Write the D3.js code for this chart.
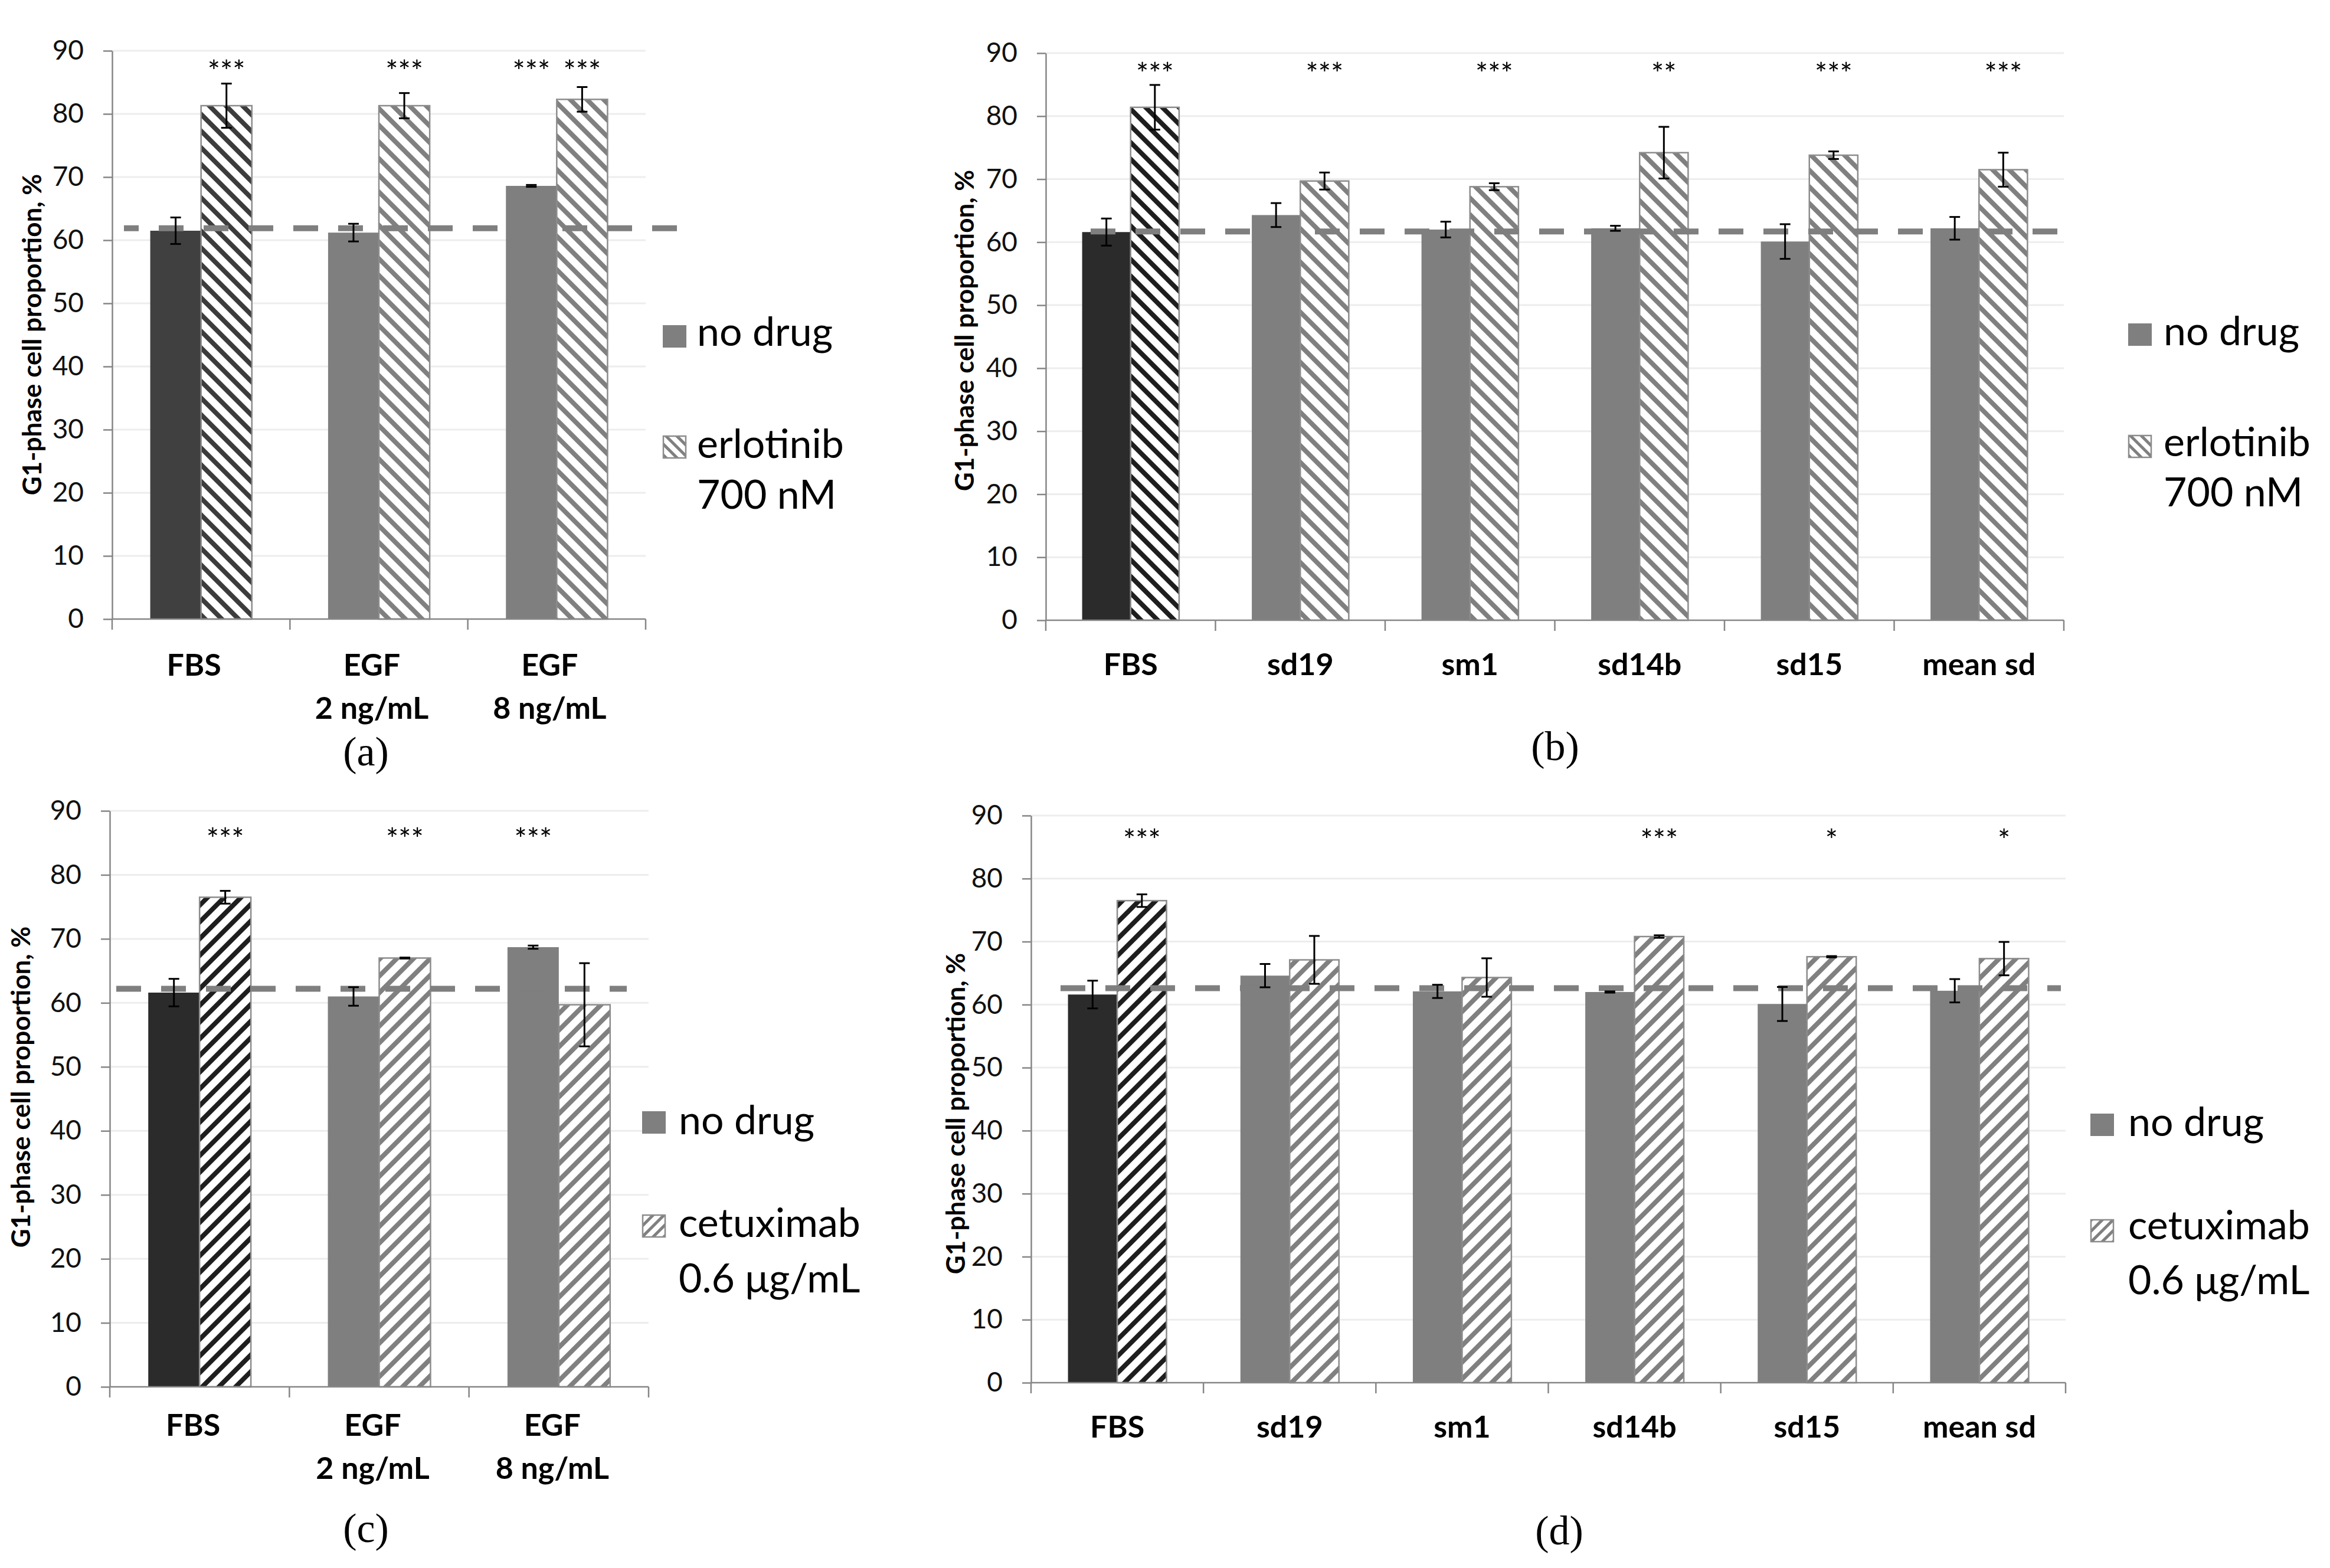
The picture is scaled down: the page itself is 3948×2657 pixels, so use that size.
<!DOCTYPE html>
<html><head><meta charset="utf-8">
<script src="https://cdn.jsdelivr.net/npm/d3@7/dist/d3.min.js"></script>
<style>body{margin:0;background:#fff} svg{display:block}</style>
</head><body>
<svg id="chart" width="3948" height="2657"></svg>
<script>
// ---------- DATA ----------
const catsEGF = [["FBS"], ["EGF", "2 ng/mL"], ["EGF", "8 ng/mL"]];
const catsSD = [["FBS"], ["sd19"], ["sm1"], ["sd14b"], ["sd15"], ["mean sd"]];
const yTicks = [0, 10, 20, 30, 40, 50, 60, 70, 80, 90];
const yTitle = "G1-phase cell proportion, %";
const seriesNoDrug = "no drug";
const drugErlotinib = ["erlotinib", "700 nM"];
const drugCetuximab = ["cetuximab", "0.6 \u03bcg/mL"];
const panelLabels = ["(a)", "(b)", "(c)", "(d)"];

// panel (a): EGF, erlotinib
const aNoDrug = [61.5, 61.2, 68.6];
const aNoDrugErr = [2.1, 1.4, 0.15];
const aDrug = [81.3, 81.3, 82.3];
const aDrugErr = [3.5, 2.0, 1.95];
const aStarsNoDrug = ["", "", "***"];
const aStarsDrug = ["***", "***", "***"];
const aRef = 61.9;

// panel (b): sera, erlotinib
const bNoDrug = [61.6, 64.3, 62.0, 62.2, 60.1, 62.2];
const bNoDrugErr = [2.15, 1.9, 1.25, 0.4, 2.75, 1.8];
const bDrug = [81.4, 69.7, 68.8, 74.2, 73.8, 71.5];
const bDrugErr = [3.55, 1.35, 0.55, 4.1, 0.6, 2.7];
const bStarsNoDrug = ["", "", "", "", "", ""];
const bStarsDrug = ["***", "***", "***", "**", "***", "***"];
const bRef = 61.7;

// panel (c): EGF, cetuximab
const cNoDrug = [61.6, 61.0, 68.7];
const cNoDrugErr = [2.15, 1.45, 0.25];
const cDrug = [76.5, 67.0, 59.7];
const cDrugErr = [1.0, 0.08, 6.5];
const cStarsNoDrug = ["", "", "***"];
const cStarsDrug = ["***", "***", ""];
const cRef = 62.2;

// panel (d): sera, cetuximab
const dNoDrug = [61.6, 64.6, 62.1, 62.0, 60.1, 62.2];
const dNoDrugErr = [2.2, 1.85, 1.05, 0.1, 2.7, 1.85];
const dDrug = [76.5, 67.1, 64.3, 70.8, 67.6, 67.3];
const dDrugErr = [1.0, 3.8, 3.05, 0.2, 0.1, 2.65];
const dStarsNoDrug = ["", "", "", "", "", ""];
const dStarsDrug = ["***", "", "", "***", "*", "*"];
const dRef = 62.6;

// ---------- STYLE / LAYOUT ----------
const FONT = "Lato, 'Open Sans', sans-serif";
const GRAY = "#7f7f7f";
const svg = d3.select("#chart");
const defs = svg.append("defs");

function makePattern(id, color, angle, size, stripe) {
  const p = defs.append("pattern").attr("id", id)
    .attr("patternUnits", "userSpaceOnUse")
    .attr("width", size).attr("height", size)
    .attr("patternTransform", `rotate(${angle})`);
  p.append("rect").attr("width", size).attr("height", size).attr("fill", "#fff");
  p.append("rect").attr("width", stripe).attr("height", size).attr("fill", color);
}
makePattern("hbDarkA", "#3c3c3c", -45, 20, 8);
makePattern("hbDark", "#1e1e1e", -45, 20, 8);
makePattern("hbGray", "#808080", -45, 20, 8);
makePattern("hfDark", "#1e1e1e", 45, 20, 8);
makePattern("hfGray", "#808080", 45, 20, 8);
makePattern("lgB", "#808080", -45, 13, 5);
makePattern("lgF", "#808080", 45, 13, 5);

const panels = [
  {cats: catsEGF, nd: aNoDrug, ndE: aNoDrugErr, dr: aDrug, drE: aDrugErr, sN: aStarsNoDrug, sD: aStarsDrug, ref: aRef,
   drugName: drugErlotinib, label: panelLabels[0],
   x0: 190, x1: 1094, yTop: 86, y0: 1049, dark: "#404040", darkPat: "hbDarkA", grayPat: "hbGray", lgPat: "lgB",
   dash: [210, 1152], dashOff: 17, catY: 1145, catDx: -12, title: [53, 567], starLevel: 87.6,
   lg: {sqX: 1123, sq1Y: 551, t1Y: 586, sq2Y: 738, t2Y: 776, t3Y: 862, tx: 1181}, lab: [620, 1297]},
  {cats: catsSD, nd: bNoDrug, ndE: bNoDrugErr, dr: bDrug, drE: bDrugErr, sN: bStarsNoDrug, sD: bStarsDrug, ref: bRef,
   drugName: drugErlotinib, label: panelLabels[1],
   x0: 1772, x1: 3497, yTop: 90, y0: 1051, dark: "#2b2b2b", darkPat: "hbDark", grayPat: "hbGray", lgPat: "lgB",
   dash: [1848, 3497], dashOff: 0, catY: 1144, catDx: 0, title: [1633, 560], starLevel: 87.6,
   lg: {sqX: 3606, sq1Y: 548, t1Y: 585, sq2Y: 737, t2Y: 773, t3Y: 858, tx: 3666}, lab: [2635, 1288]},
  {cats: catsEGF, nd: cNoDrug, ndE: cNoDrugErr, dr: cDrug, drE: cDrugErr, sN: cStarsNoDrug, sD: cStarsDrug, ref: cRef,
   drugName: drugCetuximab, label: panelLabels[2],
   x0: 186, x1: 1099, yTop: 1374, y0: 2350, dark: "#2b2b2b", darkPat: "hfDark", grayPat: "hfGray", lgPat: "lgF",
   dash: [197, 1062], dashOff: 0, catY: 2433, catDx: -11, title: [34, 1842], starLevel: 86.4,
   lg: {sqX: 1088, sq1Y: 1883, t1Y: 1922, sq2Y: 2058, t2Y: 2096, t3Y: 2190, tx: 1150}, lab: [620, 2613]},
  {cats: catsSD, nd: dNoDrug, ndE: dNoDrugErr, dr: dDrug, drE: dDrugErr, sN: dStarsNoDrug, sD: dStarsDrug, ref: dRef,
   drugName: drugCetuximab, label: panelLabels[3],
   x0: 1747, x1: 3500, yTop: 1382, y0: 2343, dark: "#2b2b2b", darkPat: "hfDark", grayPat: "hfGray", lgPat: "lgF",
   dash: [1797, 3492], dashOff: 0, catY: 2436, catDx: 0, title: [1618, 1887], starLevel: 86.9,
   lg: {sqX: 3542, sq1Y: 1887, t1Y: 1925, sq2Y: 2066, t2Y: 2100, t3Y: 2193, tx: 3606}, lab: [2642, 2617]}
];

function drawPanel(p) {
  const g = svg.append("g");
  const n = p.cats.length;
  const x = d3.scaleBand().domain(d3.range(n)).range([p.x0, p.x1])
    .paddingInner(3 / 7).paddingOuter(1.5 / 7);
  const xs = d3.scaleBand().domain(["nd", "dr"]).range([0, x.bandwidth()]);
  const y = d3.scaleLinear().domain([0, 90]).range([p.y0, p.yTop]);

  // gridlines
  g.append("g").selectAll("line").data(yTicks.filter(t => t > 0)).join("line")
    .attr("x1", p.x0).attr("x2", p.x1)
    .attr("y1", d => y(d)).attr("y2", d => y(d))
    .attr("stroke", "#ededed").attr("stroke-width", 3);

  // bars
  const rows = d3.range(n).map(i => ({i, nd: p.nd[i], ndE: p.ndE[i], dr: p.dr[i], drE: p.drE[i], sN: p.sN[i], sD: p.sD[i]}));
  g.append("g").selectAll("rect").data(rows).join("rect")
    .attr("x", d => x(d.i) + xs("nd")).attr("width", xs.bandwidth())
    .attr("y", d => y(d.nd)).attr("height", d => y(0) - y(d.nd))
    .attr("fill", d => d.i === 0 ? p.dark : GRAY);
  g.append("g").selectAll("rect").data(rows).join("rect")
    .attr("x", d => x(d.i) + xs("dr")).attr("width", xs.bandwidth())
    .attr("y", d => y(d.dr)).attr("height", d => y(0) - y(d.dr))
    .attr("fill", d => d.i === 0 ? `url(#${p.darkPat})` : `url(#${p.grayPat})`)
    .attr("stroke", "#8c8c8c").attr("stroke-width", 2.5);

  // y axis
  const ya = d3.axisLeft(y).tickValues(yTicks).tickSize(15).tickSizeOuter(0).tickPadding(33);
  const yg = g.append("g").attr("transform", `translate(${p.x0},0)`).call(ya);
  yg.select(".domain").attr("stroke", "#868686").attr("stroke-width", 2.5);
  yg.selectAll(".tick line").attr("stroke", "#868686").attr("stroke-width", 2.5);
  yg.selectAll(".tick text").attr("font-family", FONT).attr("font-size", 46).attr("fill", "#111");

  // x axis
  g.append("line").attr("x1", p.x0).attr("x2", p.x1).attr("y1", y(0)).attr("y2", y(0))
    .attr("stroke", "#868686").attr("stroke-width", 2.5);
  const halfGap = (x.step() - x.bandwidth()) / 2;
  const bounds = d3.range(n + 1).map(i => (i < n ? x(i) - halfGap : x(n - 1) + x.bandwidth() + halfGap));
  g.append("g").selectAll("line").data(bounds).join("line")
    .attr("x1", d => d).attr("x2", d => d).attr("y1", y(0)).attr("y2", y(0) + 18)
    .attr("stroke", "#868686").attr("stroke-width", 2.5);
  const cl = g.append("g").selectAll("text").data(p.cats).join("text")
    .attr("font-family", FONT).attr("font-weight", 700).attr("font-size", 52)
    .attr("text-anchor", "middle").attr("fill", "#000");
  cl.selectAll("tspan").data((d, i) => d.map(s => ({s, i}))).join("tspan")
    .attr("x", d => x(d.i) + x.bandwidth() / 2 + p.catDx)
    .attr("y", (d, k) => p.catY + k * 73)
    .text(d => d.s);

  // reference dashed line
  g.append("line").attr("x1", p.dash[0]).attr("x2", p.dash[1])
    .attr("y1", y(p.ref)).attr("y2", y(p.ref))
    .attr("stroke", "#7f7f7f").attr("stroke-width", 10)
    .attr("stroke-dasharray", "42 34").attr("stroke-dashoffset", p.dashOff);

  // error bars
  const eb = [];
  rows.forEach(d => {
    eb.push({cx: x(d.i) + xs("nd") + xs.bandwidth() / 2, v: d.nd, e: d.ndE});
    eb.push({cx: x(d.i) + xs("dr") + xs.bandwidth() / 2, v: d.dr, e: d.drE});
  });
  const ebg = g.append("g").attr("stroke", "#000").attr("stroke-width", 3);
  ebg.selectAll(".v").data(eb).join("line").attr("class", "v")
    .attr("x1", d => d.cx).attr("x2", d => d.cx)
    .attr("y1", d => y(d.v - d.e)).attr("y2", d => y(d.v + d.e));
  ebg.selectAll(".t").data(eb).join("line").attr("class", "t")
    .attr("x1", d => d.cx - 9).attr("x2", d => d.cx + 9)
    .attr("y1", d => y(d.v + d.e)).attr("y2", d => y(d.v + d.e));
  ebg.selectAll(".b").data(eb).join("line").attr("class", "b")
    .attr("x1", d => d.cx - 9).attr("x2", d => d.cx + 9)
    .attr("y1", d => y(d.v - d.e)).attr("y2", d => y(d.v - d.e));

  // significance stars
  const st = [];
  rows.forEach(d => {
    if (d.sN) st.push({cx: x(d.i) + xs("nd") + xs.bandwidth() / 2, s: d.sN});
    if (d.sD) st.push({cx: x(d.i) + xs("dr") + xs.bandwidth() / 2, s: d.sD});
  });
  g.append("g").selectAll("text").data(st).join("text")
    .attr("x", d => d.cx).attr("y", y(p.starLevel) + 27)
    .attr("text-anchor", "middle").attr("font-family", FONT).attr("font-size", 50)
    .attr("fill", "#000").text(d => d.s);

  // y title
  g.append("text").attr("transform", `translate(${p.title[0]},${p.title[1]}) rotate(-90)`)
    .attr("text-anchor", "middle").attr("dominant-baseline", "central")
    .attr("font-family", FONT).attr("font-weight", 700).attr("font-size", 44)
    .attr("fill", "#000").text(yTitle);

  // legend
  const L = p.lg;
  g.append("rect").attr("x", L.sqX).attr("y", L.sq1Y).attr("width", 40).attr("height", 38).attr("fill", GRAY);
  g.append("rect").attr("x", L.sqX + 1).attr("y", L.sq2Y + 1).attr("width", 38).attr("height", 37)
    .attr("fill", `url(#${p.lgPat})`).attr("stroke", "#8c8c8c").attr("stroke-width", 2.5);
  const lt = {"font-family": FONT, "font-size": 68, "fill": "#000"};
  const t1 = g.append("text").attr("x", L.tx).attr("y", L.t1Y).text(seriesNoDrug);
  const t2 = g.append("text").attr("x", L.tx).attr("y", L.t2Y).text(p.drugName[0]);
  const t3 = g.append("text").attr("x", L.tx).attr("y", L.t3Y).text(p.drugName[1]);
  [t1, t2, t3].forEach(t => Object.entries(lt).forEach(([k, v]) => t.attr(k, v)));

  // panel label
  g.append("text").attr("x", p.lab[0]).attr("y", p.lab[1]).attr("text-anchor", "middle")
    .attr("font-family", "'Liberation Serif', 'DejaVu Serif', serif").attr("font-size", 70)
    .attr("fill", "#000").text(p.label);
}

panels.forEach(drawPanel);
</script>
</body></html>
